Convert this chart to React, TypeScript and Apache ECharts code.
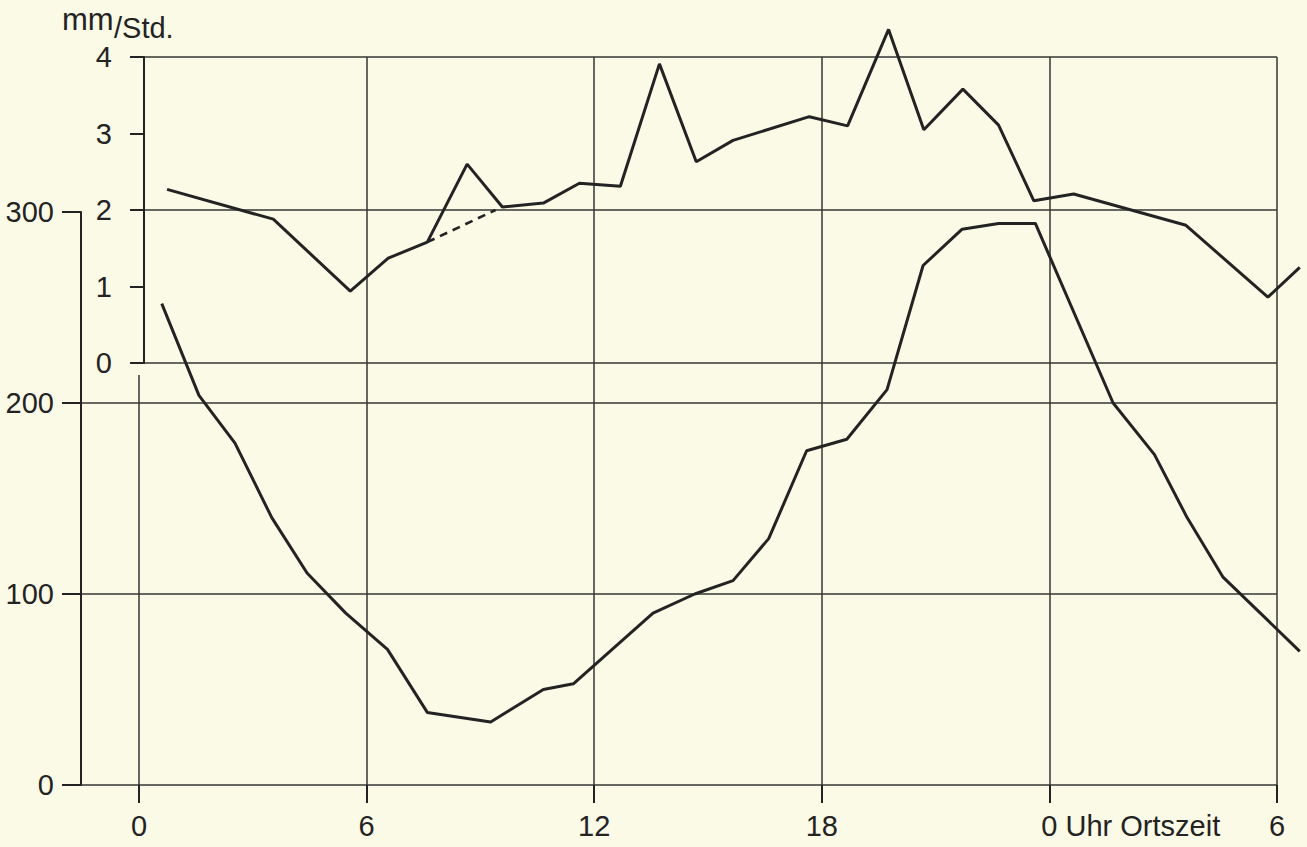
import React, { useEffect, useRef } from "react";
import * as echarts from "echarts";

// ---- data ----
// upper curve: mm/Std. (inner axis 0..4)
const upperHours = [0.74, 3.54, 5.57, 6.57, 7.6, 8.65, 9.58, 10.66, 11.61, 12.69, 13.72, 14.69, 15.66, 17.67, 18.68, 19.76, 20.69, 21.72, 22.66, 23.59, 24.64, 27.6, 29.76, 30.6];
const upperValues = [2.27, 1.88, 0.94, 1.37, 1.58, 2.6, 2.04, 2.09, 2.35, 2.31, 3.91, 2.63, 2.91, 3.22, 3.1, 4.36, 3.05, 3.58, 3.11, 2.12, 2.21, 1.8, 0.86, 1.25];
// dashed alternative segment on the upper curve
const dashHours = [7.6, 9.4];
const dashValues = [1.58, 2.0];
// lower curve (outer axis 0..300)
const lowerHours = [0.6, 1.58, 2.53, 3.5, 4.43, 5.45, 6.55, 7.6, 9.27, 10.66, 11.45, 13.55, 14.65, 15.66, 16.6, 17.6, 18.66, 19.72, 20.67, 21.7, 22.66, 23.63, 25.68, 26.77, 27.63, 28.57, 30.6];
const lowerValues = [252, 204, 179, 140, 111, 90, 71, 38, 33, 50, 53, 90, 100, 107, 129, 175, 181, 207, 272, 291, 294, 294, 200, 173, 140, 109, 70];
// tick labels
const xTickLabels: Record<number, string> = { 0: "0", 6: "6", 12: "12", 18: "18", 24: "0 Uhr Ortszeit", 30: "6" };
const titleMain = "mm";
const titleSub = "/Std.";

// ---- layout ----
const W = 1307;
const H = 847;
const X0 = 139; // pixel of hour 0
const X_END = 1277; // pixel of hour 30
const OUTER_X = 81; // outer axis line
const RIGHT = W - X_END;
const Y_OUTER_TOP = 212;
const Y_BOTTOM = 785;
const Y_INNER_TOP = 57;
const Y_INNER_ZERO = 363;
const Y_ZERO_LINE_TOP = 375;
const INNER_AXIS_SHIFT = 5;

const FONT = '"Liberation Sans", Arial, sans-serif';
const FS = 29;
const INK = "#232323";
const GRIDC = "#363636";
const BG = "#fbfae6";

export default function App() {
  const ref = useRef<HTMLDivElement>(null);
  useEffect(() => {
    if (!ref.current) return;
    const chart = echarts.init(ref.current, undefined, { renderer: "svg" });
    const pxPerHour = (X_END - X0) / 30;
    const outerMin = -(X0 - OUTER_X) / pxPerHour;
    const dataMax = 30 + RIGHT / pxPerHour; // data grids reach the right edge of the page

    const cvs = document.createElement("canvas").getContext("2d")!;
    cvs.font = `${FS}px ${FONT}`;
    const wAll = cvs.measureText(xTickLabels[24]).width;
    const w0 = cvs.measureText("0").width;
    const pad = Math.max(0, wAll - w0);

    const labelStyle = { fontFamily: FONT, fontSize: FS, color: INK };
    const gridLine = { lineStyle: { color: GRIDC, width: 1.5 } };
    const hiddenY = (gridIndex: number, min: number, max: number) => ({
      type: "value", gridIndex, min, max, show: false,
      axisLine: { onZero: false },
    });

    const option: any = {
      animation: false,
      backgroundColor: BG,
      textStyle: { fontFamily: FONT },
      grid: [
        // 0: outer frame (axis 0..300)
        { left: OUTER_X, right: RIGHT, top: Y_OUTER_TOP, bottom: H - Y_BOTTOM },
        // 1: inner frame (axis 0..4)
        { left: X0, right: RIGHT, top: Y_INNER_TOP, height: Y_INNER_ZERO - Y_INNER_TOP },
        // 2: visible time axis + vertical grid lines
        { left: X0, right: RIGHT, top: Y_INNER_TOP, bottom: H - Y_BOTTOM },
        // 3: hour-0 line below the inner axis
        { left: X0, right: RIGHT, top: Y_ZERO_LINE_TOP, bottom: H - Y_BOTTOM },
        // 4: data grid lower curve
        { left: OUTER_X, right: 0, top: Y_OUTER_TOP, bottom: H - Y_BOTTOM },
        // 5: data grid upper curve
        { left: X0, right: 0, top: Y_INNER_TOP, height: Y_INNER_ZERO - Y_INNER_TOP },
      ],
      xAxis: [
        { type: "value", gridIndex: 0, min: outerMin, max: 30, show: false, axisLine: { onZero: false } },
        { type: "value", gridIndex: 1, min: 0, max: 30, show: false, axisLine: { onZero: false } },
        {
          type: "value",
          gridIndex: 2,
          min: 0,
          max: 30,
          interval: 6,
          axisLine: { show: false, onZero: false },
          axisTick: { show: true, length: 18, lineStyle: { color: INK, width: 2 } },
          axisLabel: {
            ...labelStyle,
            margin: 26,
            formatter: (v: number) => {
              const t = xTickLabels[Math.round(v)] ?? "";
              return Math.round(v) === 24 ? `{u|${t}}` : t;
            },
            rich: { u: { ...labelStyle, padding: [0, 0, 0, pad] } },
          },
          splitLine: { show: true, showMinLine: false, showMaxLine: true, ...gridLine },
        },
        {
          type: "value",
          gridIndex: 3,
          min: 0,
          max: 30,
          interval: 30,
          axisLine: { show: false, onZero: false },
          axisTick: { show: false },
          axisLabel: { show: false },
          splitLine: { show: true, showMinLine: true, showMaxLine: false, ...gridLine },
        },
        { type: "value", gridIndex: 4, min: outerMin, max: dataMax, show: false, axisLine: { onZero: false } },
        { type: "value", gridIndex: 5, min: 0, max: dataMax, show: false, axisLine: { onZero: false } },
      ],
      yAxis: [
        {
          type: "value",
          gridIndex: 0,
          min: 0,
          max: 300,
          interval: 100,
          axisLine: { show: true, onZero: false, lineStyle: { color: INK, width: 2 } },
          axisTick: { show: true, length: 19, lineStyle: { color: INK, width: 2 } },
          axisLabel: { ...labelStyle, margin: 27 },
          splitLine: { show: true, showMinLine: true, showMaxLine: false, ...gridLine },
        },
        {
          type: "value",
          gridIndex: 1,
          min: 0,
          max: 4,
          interval: 1,
          offset: -INNER_AXIS_SHIFT,
          axisLine: { show: true, onZero: false, lineStyle: { color: INK, width: 2 } },
          axisTick: { show: true, length: 14, lineStyle: { color: INK, width: 2 } },
          axisLabel: { ...labelStyle, margin: 32 },
          splitLine: { show: false },
        },
        {
          type: "value",
          gridIndex: 1,
          position: "right",
          min: 0,
          max: 4,
          interval: 2,
          axisLine: { show: false, onZero: false },
          axisTick: { show: false },
          axisLabel: { show: false },
          splitLine: { show: true, showMinLine: true, showMaxLine: true, ...gridLine },
        },
        hiddenY(2, 0, 1),
        hiddenY(3, 0, 1),
        hiddenY(4, 0, 300),
        hiddenY(5, 0, 4),
      ],
      series: [
        {
          type: "line",
          name: "lower",
          xAxisIndex: 4,
          yAxisIndex: 5,
          data: lowerHours.map((h, i) => [h, lowerValues[i]]),
          symbol: "none",
          clip: false,
          lineStyle: { color: INK, width: 3 },
        },
        {
          type: "line",
          name: "upper",
          xAxisIndex: 5,
          yAxisIndex: 6,
          data: upperHours.map((h, i) => [h, upperValues[i]]),
          symbol: "none",
          clip: false,
          lineStyle: { color: INK, width: 3 },
        },
        {
          type: "line",
          name: "upper-dashed",
          xAxisIndex: 5,
          yAxisIndex: 6,
          data: dashHours.map((h, i) => [h, dashValues[i]]),
          symbol: "none",
          clip: false,
          lineStyle: { color: INK, width: 2.6, type: [8, 6] },
        },
      ],
      graphic: [
        {
          type: "text",
          left: 62,
          top: 4,
          style: { text: titleMain, fontSize: 31, fontFamily: FONT, fill: INK },
        },
        {
          type: "text",
          left: 114,
          top: 13,
          style: { text: titleSub, fontSize: 29, fontFamily: FONT, fill: INK },
        },
      ],
    };
    chart.setOption(option);
    return () => chart.dispose();
  }, []);
  return (
    <div
      ref={ref}
      style={{ position: "fixed", left: 0, top: 0, width: W, height: H }}
    />
  );
}
